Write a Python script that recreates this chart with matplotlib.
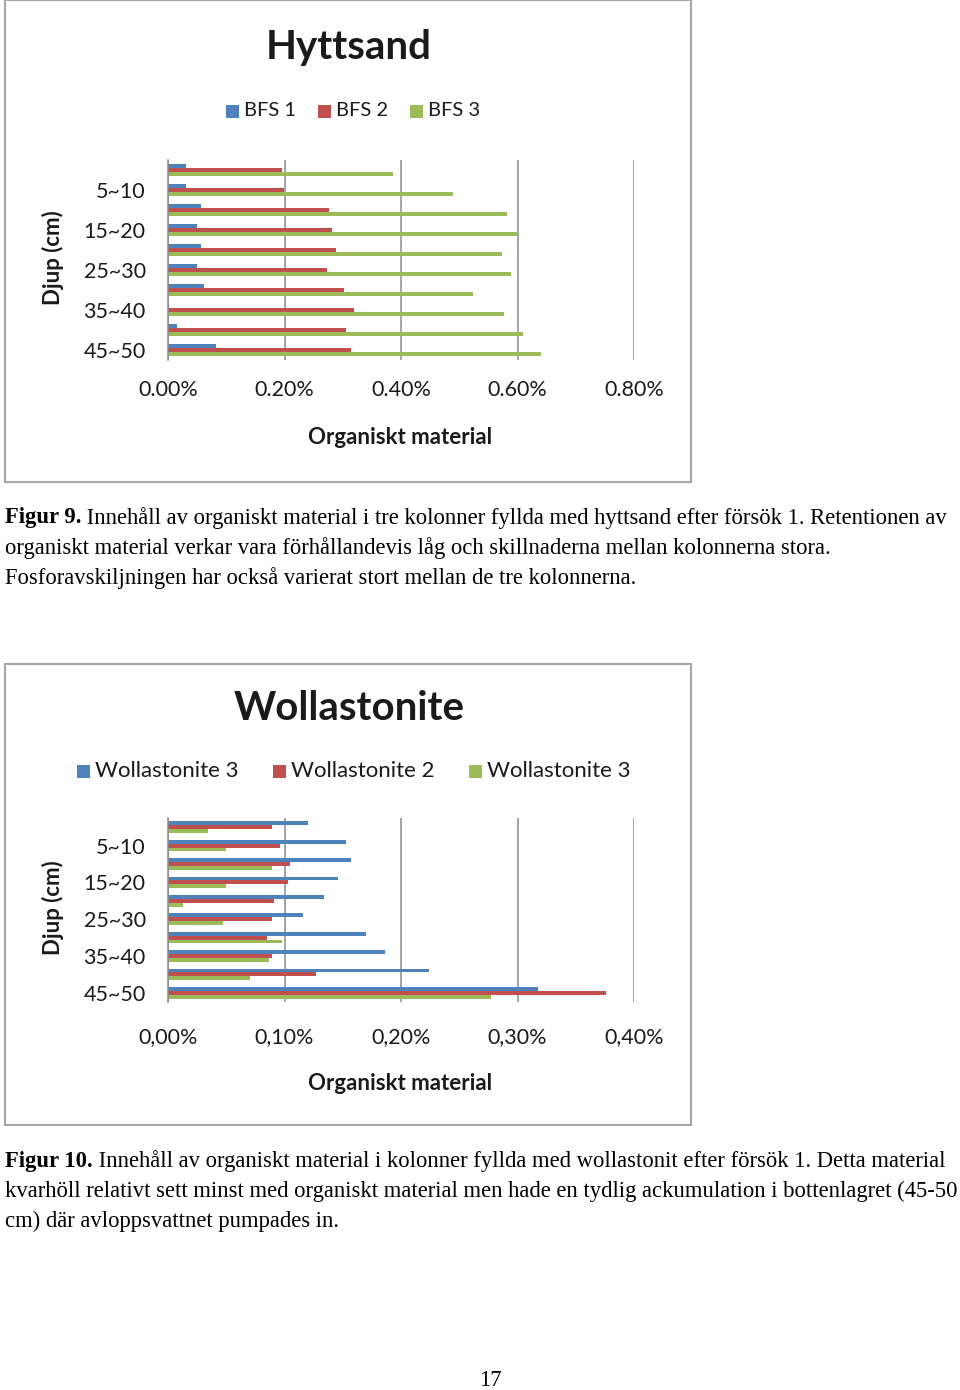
import matplotlib
matplotlib.use("Agg")
import matplotlib.pyplot as plt
from matplotlib.patches import Rectangle

# depth bins, top to bottom
depths = ["0~5", "5~10", "10~15", "15~20", "20~25",
          "25~30", "30~35", "35~40", "40~45", "45~50"]

# Hyttsand, organic content (%)
bfs1 = [0.031, 0.031, 0.057, 0.050, 0.057, 0.049, 0.061, 0.002, 0.015, 0.083]
bfs2 = [0.195, 0.199, 0.277, 0.281, 0.289, 0.273, 0.302, 0.319, 0.306, 0.315]
bfs3 = [0.387, 0.489, 0.582, 0.601, 0.574, 0.589, 0.524, 0.576, 0.610, 0.641]
hytt_ticks = [0.0, 0.2, 0.4, 0.6, 0.8]

# Wollastonite, organic content (%)
woll_a = [0.120, 0.153, 0.157, 0.146, 0.134, 0.116, 0.170, 0.186, 0.224, 0.318]
woll_b = [0.089, 0.096, 0.105, 0.103, 0.091, 0.089, 0.085, 0.089, 0.127, 0.376]
woll_c = [0.034, 0.050, 0.089, 0.050, 0.013, 0.047, 0.098, 0.087, 0.070, 0.277]
woll_ticks = [0.0, 0.1, 0.2, 0.3, 0.4]

BLUE, RED, GREEN = "#4F81BD", "#C0504D", "#9BBB59"
GRID = "#8a8a8a"
TXT = "#1a1a1a"
SANS = "Lato"
SERIF = "Liberation Serif"

W, H = 960, 1390
fig = plt.figure(figsize=(W / 100, H / 100), dpi=100)


def fx(px):
    return px / W


def fy(py):
    return 1 - py / H


def panel(box, plot, title, title_y, names, series, ticks, sep,
          legend_y, legend_x, legend_fs, xlab_y, tick_y):
    # chart frame
    x0, y0, x1, y1 = box
    fig.patches.append(Rectangle((fx(x0), fy(y1)), fx(x1 - x0), (y1 - y0) / H,
                                 transform=fig.transFigure, fill=False,
                                 edgecolor="#a6a6a6", lw=1.5))
    px0, py0, px1, py1 = plot
    ax = fig.add_axes([fx(px0), fy(py1), fx(px1 - px0), (py1 - py0) / H])
    n = len(depths)
    for k, (vals, col) in enumerate(zip(series, [BLUE, RED, GREEN])):
        ax.barh([i + (k - 1) * 0.21 for i in range(n)], vals, height=0.21,
                color=col, linewidth=0)
    ax.set_ylim(n - 0.5, -0.5)
    ax.set_xlim(ticks[0], ticks[-1])
    ax.set_xticks(ticks)
    ax.grid(axis="x", color=GRID, lw=1.1)
    ax.set_axisbelow(True)
    for s in ("top", "right", "bottom"):
        ax.spines[s].set_visible(False)
    ax.spines["left"].set_color(GRID)
    ax.spines["left"].set_linewidth(1.1)
    ax.set_yticks(range(1, n, 2))
    ax.set_yticklabels(depths[1::2], fontsize=15.5, family=SANS, color=TXT)
    ax.tick_params(axis="y", length=0, pad=16)
    ax.tick_params(axis="x", length=0, labelbottom=False)
    for t in ticks:
        fig.text(fx(px0) + (t - ticks[0]) / (ticks[-1] - ticks[0]) * fx(px1 - px0),
                 fy(tick_y), f"{t:.2f}%".replace(".", sep), ha="center",
                 va="center", fontsize=15.5, family=SANS, color=TXT)
    fig.text(fx(349), fy(title_y), title, ha="center", va="center",
             fontsize=29, fontweight="bold", family=SANS, color=TXT)
    fig.text(fx(400), fy(xlab_y), "Organiskt material", ha="center",
             va="center", fontsize=16, fontweight="bold", family=SANS, color=TXT)
    fig.text(fx(53), fy((py0 + py1) / 2 - 2), "Djup (cm)", rotation=90,
             ha="center", va="center", fontsize=16, fontweight="bold",
             family=SANS, color=TXT)
    # legend
    for (lx, name), col in zip(zip(legend_x, names), [BLUE, RED, GREEN]):
        fig.patches.append(Rectangle((fx(lx), fy(legend_y + 7)), fx(13), 13 / H,
                                     transform=fig.transFigure, color=col, lw=0))
        fig.text(fx(lx + 18), fy(legend_y), name, ha="left", va="center",
                 fontsize=legend_fs, family=SANS, color=TXT)
    return ax


panel((5, 0, 691, 482), (168, 160, 634, 360), "Hyttsand", 47,
      ["BFS 1", "BFS 2", "BFS 3"], [bfs1, bfs2, bfs3], hytt_ticks, ".",
      111, [226, 318, 410], 14.5, 438, 390)

panel((5, 664, 691, 1125), (168, 818, 634, 1002), "Wollastonite", 709,
      ["Wollastonite 3", "Wollastonite 2", "Wollastonite 3"],
      [woll_a, woll_b, woll_c], woll_ticks, ",",
      771, [77, 273, 469], 16, 1083, 1037)

cap9 = [
    ("Figur 9.", " Innehåll av organiskt material i tre kolonner fyllda med hyttsand efter försök 1. Retentionen av"),
    ("", "organiskt material verkar vara förhållandevis låg och skillnaderna mellan kolonnerna stora."),
    ("", "Fosforavskiljningen har också varierat stort mellan de tre kolonnerna."),
]
cap10 = [
    ("Figur 10.", " Innehåll av organiskt material i kolonner fyllda med wollastonit efter försök 1. Detta material"),
    ("", "kvarhöll relativt sett minst med organiskt material men hade en tydlig ackumulation i bottenlagret (45-50"),
    ("", "cm) där avloppsvattnet pumpades in."),
]


def caption(lines, y_first):
    for j, (bold, rest) in enumerate(lines):
        y = fy(y_first + 30 * j)
        x = fx(5)
        if bold:
            t = fig.text(x, y, bold, ha="left", va="center", fontsize=16.3,
                         fontweight="bold", family=SERIF, color="black")
            fig.canvas.draw()
            bb = t.get_window_extent()
            x = bb.x1 / W
        fig.text(x, y, rest, ha="left", va="center", fontsize=16.3,
                 family=SERIF, color="black")


caption(cap9, 518)
caption(cap10, 1161)
fig.text(fx(490), fy(1380), "17", ha="center", va="center", fontsize=16.3,
         family=SERIF, color="black")

fig.savefig("out.png", facecolor="white")
